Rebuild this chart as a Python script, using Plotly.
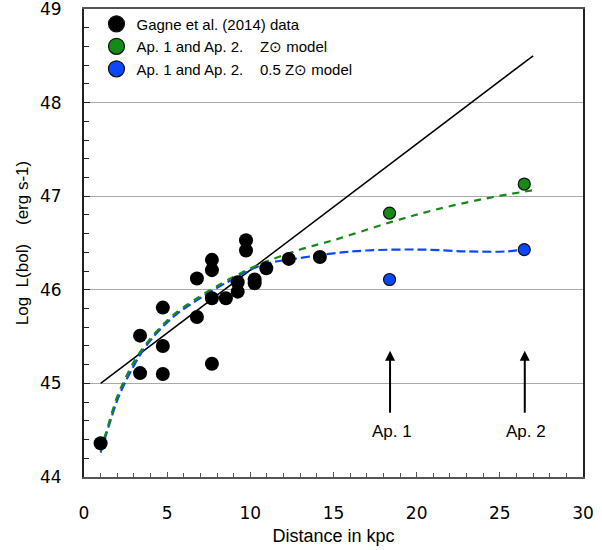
import plotly.graph_objects as go

# Gagne et al. (2014) data
data_x = [1.0, 3.37, 3.37, 4.74, 4.74, 4.74, 6.79, 6.79, 7.69, 7.69, 7.69, 7.69,
          8.53, 9.24, 9.24, 9.74, 9.74, 10.26, 10.26, 10.96, 12.31, 14.18]
data_y = [44.36, 45.51, 45.11, 45.81, 45.40, 45.10, 46.12, 45.71, 46.32, 46.21, 45.91, 45.21,
          45.91, 46.08, 45.98, 46.53, 46.42, 46.11, 46.07, 46.23, 46.33, 46.35]

# Ap. 1 and Ap. 2 model points
ap_x = [18.37, 26.47]
ap_z_y = [46.82, 47.13]
ap_half_y = [46.11, 46.43]

# fit line
line_x = [1.0, 27.0]
line_y = [45.0, 48.5]

# model curves
green_x = [1, 1.5, 2, 2.5, 3, 3.5, 4, 4.7, 5.5, 6.8, 8.8, 10.8, 13, 15, 18.4, 21, 24, 27.2]
green_y = [44.28, 44.58, 44.86, 45.06, 45.23, 45.37, 45.48, 45.62, 45.75, 45.91, 46.12, 46.29, 46.43, 46.53, 46.72, 46.85, 46.97, 47.07]
blue_x = [1, 1.5, 2, 2.5, 3, 3.5, 4, 4.7, 5.5, 6.8, 8.8, 10.8, 13, 15, 17, 20.2, 23, 25.4, 26.4]
blue_y = [44.26, 44.55, 44.82, 45.02, 45.19, 45.34, 45.46, 45.6, 45.73, 45.89, 46.1, 46.27, 46.34, 46.39, 46.42, 46.43, 46.41, 46.41, 46.43]

NB = "\u00a0"
legend_names = ["Gagne et al. (2014) data",
                "Ap. 1 and Ap. 2." + NB * 4 + "Z\u2299 model",
                "Ap. 1 and Ap. 2." + NB * 4 + "0.5 Z\u2299 model"]
y_title = "Log" + NB * 2 + "L(bol)" + NB * 4 + "(erg s-1)"

arrow_labels = ["Ap. 1", "Ap. 2"]
arrow_x = [18.4, 26.5]

GREEN = "#168a16"
BLUE = "#0a47ff"
legend_colors = ["black", GREEN, BLUE]

fig = go.Figure()
fig.add_trace(go.Scatter(x=line_x, y=line_y, mode="lines", line=dict(color="black", width=1.5),
                         showlegend=False, hoverinfo="skip"))
fig.add_trace(go.Scatter(x=blue_x, y=blue_y, mode="lines",
                         line=dict(color=BLUE, width=2.2, dash="9px,4px", shape="spline"),
                         showlegend=False))
fig.add_trace(go.Scatter(x=green_x, y=green_y, mode="lines",
                         line=dict(color=GREEN, width=2.2, dash="7px,6px", shape="spline"),
                         showlegend=False))
fig.add_trace(go.Scatter(x=data_x, y=data_y, mode="markers", name=legend_names[0], showlegend=False,
                         marker=dict(color="black", size=14)))
fig.add_trace(go.Scatter(x=ap_x, y=ap_z_y, mode="markers", name=legend_names[1], showlegend=False,
                         marker=dict(color=GREEN, size=12, line=dict(color="#111", width=1.2))))
fig.add_trace(go.Scatter(x=ap_x, y=ap_half_y, mode="markers", name=legend_names[2], showlegend=False,
                         marker=dict(color=BLUE, size=12, line=dict(color="#111", width=1.2))))

# legend entries (legend symbols only)
for i, (nm, col) in enumerate(zip(legend_names, legend_colors)):
    fig.add_trace(go.Scatter(x=[None], y=[None], mode="markers", name=nm, legendgroup=f"g{i}",
                             marker=dict(color=col, size=18, line=dict(color="#111", width=1.2))))

for lab, ax_ in zip(arrow_labels, arrow_x):
    fig.add_annotation(x=ax_, y=45.35, ax=ax_, ay=44.67, xref="x", yref="y", axref="x", ayref="y",
                       showarrow=True, arrowhead=2, arrowsize=1, arrowwidth=2, arrowcolor="black", text="")
    fig.add_annotation(x=ax_ + 0.1, y=44.49, text=lab, showarrow=False, xref="x", yref="y",
                       font=dict(family="Liberation Sans, Arial", size=17, color="black"))

fig.update_layout(
    width=602, height=550,
    margin=dict(l=84, r=19, t=9, b=73, autoexpand=False),
    plot_bgcolor="white", paper_bgcolor="white",
    legend=dict(x=0.025, y=1.003, xanchor="left", yanchor="top", bgcolor="rgba(0,0,0,0)",
                font=dict(family="Liberation Sans, Arial", size=15, color="black"),
                itemsizing="trace", tracegroupgap=0),
    showlegend=True,
)
fig.update_xaxes(range=[0, 30], tickvals=[0, 5, 10, 15, 20, 25, 30], showgrid=False, automargin=False,
                 showline=True, linecolor="#555", linewidth=1.5, mirror=True,
                 ticks="inside", ticklen=5, tickcolor="#555",
                 minor=dict(dtick=1, ticks="inside", ticklen=4, tickcolor="#555"),
                 ticklabelstandoff=20, ticklabeloverflow="allow",
                 tickfont=dict(family="DejaVu Sans, Verdana", size=17, color="black"),
                 title=dict(text="Distance in kpc", font=dict(family="Liberation Sans, Arial", size=18, color="black"),
                            standoff=7),
                 zeroline=False)
fig.update_yaxes(range=[44, 49], tickvals=[44, 45, 46, 47, 48, 49], showgrid=True, gridcolor="#aaaaaa", gridwidth=1.2,
                 showline=True, linecolor="#222", linewidth=2, mirror=True, automargin=False,
                 ticks="inside", ticklen=6, tickcolor="#222",
                 minor=dict(dtick=0.2, ticks="inside", ticklen=5, tickcolor="#222", showgrid=False),
                 ticklabelstandoff=17, ticklabeloverflow="allow",
                 tickfont=dict(family="DejaVu Sans, Verdana", size=17, color="black"),
                 title=dict(text=y_title, font=dict(family="Liberation Sans, Arial", size=17, color="black"),
                            standoff=7),
                 zeroline=False)

fig.write_html("out.html")
